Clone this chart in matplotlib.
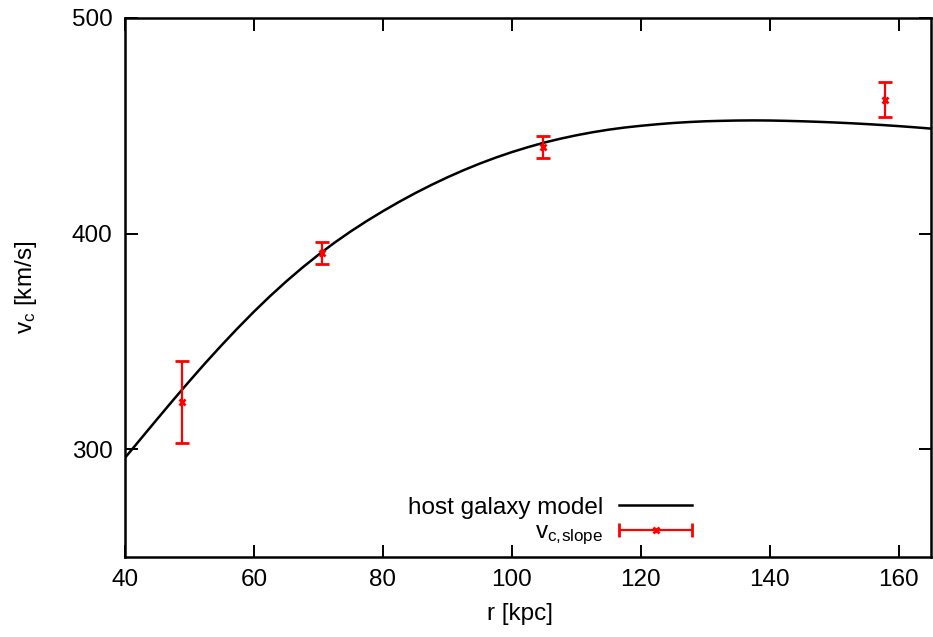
import numpy as np
import matplotlib
matplotlib.use('Agg')
import matplotlib.pyplot as plt
from matplotlib import font_manager
from matplotlib.container import ErrorbarContainer
from matplotlib.legend_handler import HandlerErrorbar

# keep the narrow variant out of the way so "Liberation Sans" is the regular width
font_manager.fontManager.ttflist = [f for f in font_manager.fontManager.ttflist
                                    if 'Narrow' not in f.fname]
plt.rcParams['font.family'] = ['Liberation Sans', 'DejaVu Sans']
plt.rcParams['mathtext.default'] = 'regular'

# host galaxy model curve
r_model = [40, 42.5, 45, 47.5, 50, 52.5, 55, 57.5, 60, 62.5, 65, 67.5, 70,
           72.5, 75, 77.5, 80, 82.5, 85, 87.5, 90, 92.5, 95, 97.5, 100, 102.5,
           105, 107.5, 110, 112.5, 115, 117.5, 120, 122.5, 125, 127.5, 130,
           132.5, 135, 137.5, 140, 142.5, 145, 147.5, 150, 152.5, 155, 157.5,
           160, 162.5, 165]
vc_model = [296.0, 305.0, 314.0, 322.9, 331.6, 340.1, 348.3, 356.2, 363.8,
            371.0, 377.8, 384.2, 390.2, 395.8, 401.0, 405.85, 410.4, 414.7,
            418.75, 422.55, 426.1, 429.4, 432.45, 435.25, 437.8, 440.1, 442.2,
            444.0, 445.6, 447.0, 448.2, 449.2, 450.0, 450.7, 451.3, 451.75,
            452.1, 452.3, 452.45, 452.5, 452.45, 452.3, 452.1, 451.85, 451.55,
            451.2, 450.8, 450.35, 449.85, 449.3, 448.7]

# v_c,slope measurements
r_slope = [48.8, 70.5, 104.9, 157.8]
vc_slope = [322.0, 391.0, 440.2, 462.1]
vc_err = [19.0, 5.0, 5.0, 8.0]

fs = 17.5
fig = plt.figure(figsize=(9.33, 6.37), dpi=100)
ax = fig.add_axes([125/933, 1-557/637, 806/933, 539/637])

ax.plot(r_model, vc_model, color='black', lw=1.8, label='host galaxy model')
ax.errorbar(r_slope, vc_slope, yerr=vc_err, fmt='x', color='red', ms=5, mew=2,
            elinewidth=1.6, capsize=5, capthick=1.6, zorder=3)

# legend proxy: horizontal bar like in gnuplot key
proxy = ax.errorbar([np.nan], [np.nan], xerr=[1.0], fmt='x', color='red', ms=5,
                    mew=2, elinewidth=1.6, capsize=5, capthick=1.6,
                    label=r'$v_{c,\!slope}$')

ax.set_xlim(40, 165)
ax.set_ylim(250, 500)
ax.set_xticks([40, 60, 80, 100, 120, 140, 160])
ax.set_yticks([300, 400, 500])
ax.tick_params(direction='in', length=9, width=1.4, top=True, right=True,
               labelsize=fs, pad=9)
for s in ax.spines.values():
    s.set_linewidth(1.8)

ax.set_xlabel('r [kpc]', fontsize=fs)
ax.set_ylabel(r'$v_c$ [km/s]', fontsize=fs)
ax.xaxis.set_label_coords((520-125)/806, -0.085)
ax.yaxis.set_label_coords(-0.107, 0.5)

handles, labels = ax.get_legend_handles_labels()
ax.legend(handles, labels, loc='center right', bbox_to_anchor=(0.7035, 0.065),
          frameon=False, markerfirst=False, fontsize=fs, numpoints=1,
          handlelength=3.0, handletextpad=0.66, borderpad=0, labelspacing=0.1,
          borderaxespad=0,
          handler_map={ErrorbarContainer: HandlerErrorbar(xerr_size=1.5)})

fig.savefig('out.png', dpi=100)
